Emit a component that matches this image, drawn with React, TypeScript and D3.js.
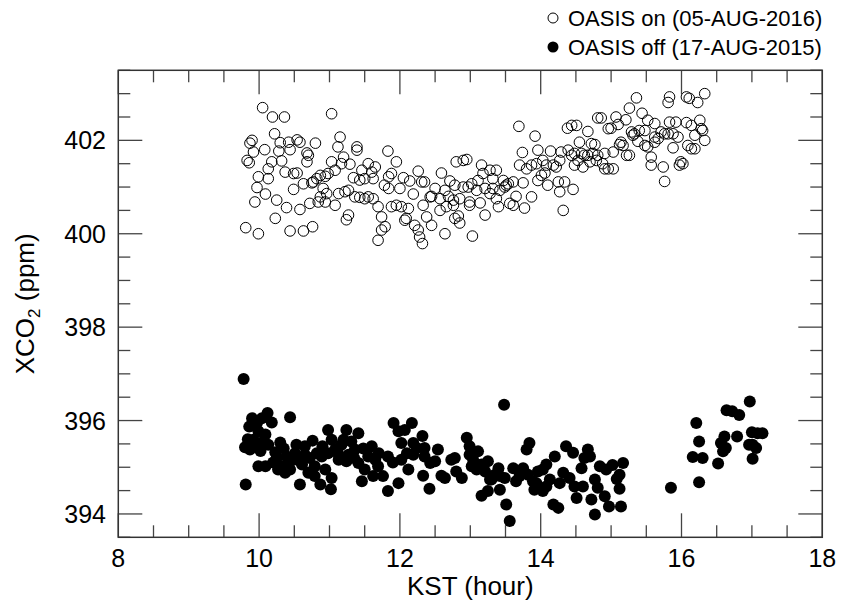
import React from "react";
import * as d3 from "d3";

// OASIS on (05-AUG-2016): [KST hour, XCO2 ppm]
const oasisOn: [number, number][] = [
  [10.05, 402.7], [10.19, 402.5], [10.36, 402.5], [11.03, 402.57], [10.22, 402.14],
  [9.9, 402.0], [9.87, 401.94], [10.3, 401.95], [10.42, 401.96], [10.54, 402.01],
  [10.58, 401.96], [10.8, 401.94], [11.15, 402.07], [10.08, 401.8], [9.92, 401.75],
  [10.28, 401.77], [10.44, 401.8], [11.12, 401.86], [11.39, 401.86], [11.39, 401.79],
  [10.68, 401.73], [11.83, 401.77], [10.7, 401.68], [9.83, 401.57], [9.86, 401.52],
  [10.32, 401.56], [10.18, 401.54], [10.68, 401.54], [11.03, 401.54], [11.2, 401.64],
  [11.17, 401.5], [11.29, 401.49], [11.55, 401.5], [11.65, 401.43], [10.13, 401.39],
  [9.99, 401.22], [10.13, 401.18], [10.37, 401.32], [10.49, 401.29], [10.54, 401.3],
  [11.08, 401.36], [10.98, 401.29], [10.94, 401.23], [10.87, 401.25], [10.82, 401.18],
  [10.77, 401.11], [11.46, 401.36], [11.6, 401.32], [11.34, 401.2], [11.43, 401.15],
  [11.5, 401.18], [11.62, 401.18], [11.88, 401.29], [11.84, 401.22], [10.63, 401.07],
  [10.75, 401.09], [9.97, 400.99], [10.49, 400.95], [10.91, 400.97], [11.78, 401.04],
  [11.84, 400.97], [10.09, 400.85], [9.94, 400.68], [10.96, 400.86], [10.87, 400.79],
  [10.94, 400.68], [11.08, 400.61], [11.13, 400.86], [11.22, 400.9], [11.27, 400.93],
  [11.36, 400.79], [11.43, 400.78], [11.5, 400.75], [11.55, 400.79], [11.62, 400.75],
  [10.25, 400.72], [10.72, 400.65], [10.84, 400.68], [11.69, 400.58], [11.88, 400.58],
  [10.39, 400.56], [10.58, 400.52], [11.27, 400.4], [11.24, 400.3], [10.23, 400.33],
  [11.74, 400.36], [11.79, 400.15], [11.74, 400.08], [11.69, 399.86], [9.81, 400.13],
  [9.99, 400.0], [10.44, 400.06], [10.63, 400.06], [10.76, 400.15],
  [13.69, 402.3], [13.92, 402.09], [13.74, 401.74], [13.96, 401.79], [14.14, 401.77],
  [12.8, 401.54], [12.9, 401.57], [12.95, 401.59], [13.16, 401.47], [13.7, 401.47],
  [13.8, 401.39], [13.87, 401.47], [13.94, 401.5], [14.03, 401.57], [14.08, 401.47],
  [14.18, 401.47], [14.22, 401.43], [11.95, 401.54], [12.26, 401.34], [12.59, 401.3],
  [13.28, 401.36], [13.37, 401.36], [13.18, 401.29], [13.11, 401.14], [13.02, 401.07],
  [12.97, 401.0], [12.05, 401.2], [12.14, 401.13], [12.31, 401.11], [12.35, 401.11],
  [12.71, 401.13], [13.32, 401.18], [13.47, 401.14], [13.51, 401.04], [13.54, 401.07],
  [13.61, 401.11], [13.75, 401.09], [13.96, 401.14], [14.01, 401.25], [14.06, 401.3],
  [12.0, 400.97], [12.5, 400.97], [12.64, 400.93], [12.78, 401.04], [12.9, 401.0],
  [13.09, 400.93], [13.21, 400.97], [13.32, 400.97], [13.42, 400.93], [13.49, 401.0],
  [12.19, 400.85], [12.43, 400.79], [12.45, 400.8], [12.57, 400.75], [12.69, 400.8],
  [12.76, 400.72], [12.85, 400.75], [12.99, 400.68], [13.14, 400.66], [13.28, 400.86],
  [13.37, 400.75], [13.65, 400.8], [13.87, 400.79], [14.1, 401.04], [11.95, 400.61],
  [12.02, 400.58], [12.12, 400.54], [12.33, 400.61], [12.38, 400.36], [12.57, 400.5],
  [12.66, 400.58], [12.76, 400.61], [12.83, 400.38], [12.99, 400.61], [13.4, 400.58],
  [13.56, 400.65], [13.61, 400.61], [13.77, 400.55], [12.09, 400.33], [12.07, 400.29],
  [12.21, 400.18], [12.26, 400.08], [12.45, 400.18], [12.78, 400.33], [12.85, 400.23],
  [13.21, 400.4], [12.28, 399.93], [12.32, 399.79], [12.64, 400.0], [13.03, 399.95],
  [15.36, 402.91], [15.83, 402.93], [15.81, 402.81], [16.07, 402.93], [16.11, 402.9],
  [16.23, 402.81], [16.33, 403.0], [15.26, 402.69], [15.44, 402.58], [14.38, 402.26],
  [14.44, 402.32], [14.51, 402.32], [14.81, 402.48], [14.86, 402.48], [15.07, 402.5],
  [15.21, 402.44], [15.1, 402.34], [14.96, 402.25], [15.0, 402.26], [14.67, 402.19],
  [15.52, 402.43], [15.62, 402.36], [15.83, 402.39], [15.92, 402.39], [16.07, 402.38],
  [16.14, 402.32], [16.26, 402.43], [16.28, 402.25], [16.3, 402.21], [15.29, 402.18],
  [15.33, 402.14], [15.4, 402.21], [15.48, 402.21], [15.31, 402.11], [15.71, 402.18],
  [15.81, 402.14], [15.88, 402.14], [15.95, 402.07], [15.62, 402.07], [15.67, 402.04],
  [15.76, 402.14], [16.19, 402.11], [16.33, 402.0], [14.55, 401.96], [14.72, 401.93],
  [14.77, 401.91], [15.14, 401.96], [15.17, 401.89], [15.12, 401.91], [15.38, 401.98],
  [15.48, 401.89], [15.52, 401.86], [15.62, 401.96], [14.29, 401.75], [14.39, 401.79],
  [14.44, 401.68], [14.48, 401.72], [14.58, 401.72], [14.62, 401.68], [14.67, 401.68],
  [14.74, 401.72], [14.81, 401.68], [14.91, 401.72], [15.03, 401.75], [15.22, 401.68],
  [15.26, 401.68], [15.88, 401.84], [16.09, 401.89], [16.14, 401.82], [16.19, 401.82],
  [14.27, 401.57], [14.53, 401.57], [14.48, 401.47], [14.6, 401.43], [14.7, 401.54],
  [14.79, 401.57], [14.88, 401.5], [14.91, 401.39], [14.96, 401.39], [15.03, 401.39],
  [15.57, 401.64], [15.57, 401.47], [15.74, 401.43], [15.99, 401.54], [15.97, 401.47],
  [16.02, 401.5], [14.25, 401.11], [14.34, 401.11], [14.27, 400.9], [14.46, 400.95],
  [15.76, 401.12], [14.32, 400.5],
];

// OASIS off (17-AUG-2015): [KST hour, XCO2 ppm]
const oasisOff: [number, number][] = [
  [9.78, 396.89], [9.9, 396.05], [10.04, 396.05], [10.12, 396.16], [10.18, 395.96],
  [10.44, 396.07], [9.86, 395.87], [9.99, 395.77], [10.09, 395.7], [9.92, 395.59],
  [9.8, 395.43], [9.87, 395.38], [10.13, 395.48], [10.3, 395.53], [10.23, 395.32],
  [9.99, 395.02], [10.09, 395.02], [9.81, 394.63], [10.25, 395.2], [10.32, 395.02],
  [10.37, 394.88], [10.27, 394.95], [10.53, 395.48], [10.51, 395.3], [10.65, 395.45],
  [10.76, 395.57], [10.61, 395.06], [10.7, 394.88], [10.79, 394.81], [10.87, 394.63],
  [10.58, 394.63], [10.98, 395.8], [11.03, 394.77], [11.02, 394.53], [10.94, 394.95],
  [10.89, 395.23], [10.98, 395.3], [11.08, 395.38], [11.17, 395.48], [11.24, 395.8],
  [11.2, 395.59], [11.27, 395.27], [11.36, 395.38], [11.41, 395.73], [11.41, 395.09],
  [11.46, 394.7], [11.5, 394.95], [11.6, 395.45], [11.62, 394.81], [11.69, 395.02],
  [11.76, 394.81], [11.83, 395.23], [11.83, 394.49], [11.98, 394.66], [11.91, 395.95],
  [11.98, 395.77], [12.07, 395.8], [12.02, 395.52], [12.12, 394.95], [12.17, 395.95],
  [12.02, 395.16], [10.44, 395.13], [10.65, 395.27], [10.82, 395.3], [11.13, 395.16],
  [10.79, 395.02], [11.24, 395.13], [11.55, 395.23], [11.65, 395.16], [10.44, 394.95],
  [9.94, 395.45], [10.06, 395.55], [9.97, 395.95], [10.39, 395.23], [11.03, 395.59],
  [11.31, 395.55], [9.84, 395.6], [10.02, 395.35], [10.2, 395.1], [10.35, 395.4],
  [10.56, 395.15], [10.72, 395.2], [10.9, 395.45], [11.12, 395.3], [11.35, 395.2],
  [11.48, 395.4], [11.7, 395.3], [11.9, 395.1], [12.1, 395.3],
  [13.48, 396.34], [12.32, 395.67], [12.19, 395.52], [12.35, 395.41], [12.19, 395.27],
  [12.35, 395.23], [12.5, 395.13], [12.54, 395.38], [12.33, 394.82], [12.42, 394.54],
  [12.59, 394.82], [12.64, 394.77], [12.73, 395.16], [12.78, 395.2], [12.8, 394.91],
  [12.88, 394.77], [12.95, 395.63], [12.99, 395.45], [13.11, 395.34], [13.04, 395.16],
  [13.02, 395.02], [13.09, 394.95], [13.16, 395.06], [13.25, 395.13], [13.21, 394.91],
  [13.28, 394.74], [13.4, 394.98], [13.35, 394.84], [13.42, 394.81], [13.49, 394.77],
  [13.3, 394.74], [13.16, 394.39], [13.25, 394.49], [13.42, 394.52], [13.51, 394.2],
  [13.56, 393.85], [13.65, 394.7], [13.61, 394.98], [13.75, 394.98], [13.8, 395.38],
  [13.84, 395.52], [13.82, 394.84], [13.89, 394.7], [13.91, 394.52], [13.96, 394.91],
  [14.03, 394.95], [14.08, 395.06], [14.2, 395.23], [14.08, 394.59], [14.13, 394.74],
  [14.03, 394.49], [14.18, 394.2], [14.25, 394.13], [14.32, 394.88], [14.36, 395.45],
  [14.46, 395.31], [14.41, 394.77], [14.48, 394.59], [14.51, 394.34], [14.58, 394.98],
  [14.62, 395.2], [14.67, 395.38], [14.7, 395.23], [14.6, 394.59], [14.72, 394.31],
  [14.77, 393.99], [14.77, 394.74], [14.84, 395.02], [14.81, 394.56], [14.91, 394.38],
  [14.93, 394.95], [14.97, 394.16], [12.24, 395.41], [12.43, 395.09], [12.99, 395.27],
  [13.7, 394.81], [14.27, 394.66], [13.94, 394.66],
  [15.17, 395.09], [15.12, 394.84], [15.12, 394.54], [15.14, 394.16], [15.02, 395.05],
  [15.08, 394.75],
  [15.85, 394.56], [16.21, 395.95], [16.25, 395.55], [16.16, 395.22], [16.3, 395.2],
  [16.25, 394.68], [16.52, 395.08], [16.56, 395.52], [16.61, 395.66], [16.59, 395.34],
  [16.63, 395.41], [16.64, 396.22], [16.72, 396.2], [16.82, 396.12], [16.79, 395.66],
  [16.97, 396.41], [17.0, 395.75], [17.08, 395.73], [17.15, 395.73], [16.96, 395.48],
  [17.01, 395.48], [17.06, 395.41], [17.01, 395.18],
];

const xMajorTicks = [8, 10, 12, 14, 16, 18];
const yMajorTicks = [394, 396, 398, 400, 402];
const legendLabels = ["OASIS on (05-AUG-2016)", "OASIS off (17-AUG-2015)"];

const W = 842;
const H = 610;
const M = { left: 118.3, right: 822.3, top: 70.3, bottom: 537.3 };
const FONT = "'Liberation Sans', Arial, Helvetica, sans-serif";

export default function App() {
  const x = d3.scaleLinear().domain([8, 18]).range([M.left, M.right]);
  const y = d3.scaleLinear().domain([393.5, 403.5]).range([M.bottom, M.top]);

  const xMinor = d3.range(8, 18.001, 0.5).filter((v) => !xMajorTicks.includes(v));
  const yMinor = d3.range(393.5, 403.501, 0.5).filter((v) => !yMajorTicks.includes(v));
  const tickColor = "#444";
  const majorLen = 24;
  const minorLen = 12;

  return (
    <svg
      width={W}
      height={H}
      style={{ position: "absolute", left: 0, top: 0, background: "#fff" }}
      fontFamily={FONT}
    >
      <rect x={0} y={0} width={W} height={H} fill="#fff" />
      <g stroke={tickColor} strokeWidth={1.3}>
        {xMajorTicks.map((t) => (
          <g key={"xm" + t}>
            <line x1={x(t)} x2={x(t)} y1={M.bottom} y2={M.bottom - majorLen} />
            <line x1={x(t)} x2={x(t)} y1={M.top} y2={M.top + majorLen} />
          </g>
        ))}
        {xMinor.map((t) => (
          <g key={"xn" + t}>
            <line x1={x(t)} x2={x(t)} y1={M.bottom} y2={M.bottom - minorLen} />
            <line x1={x(t)} x2={x(t)} y1={M.top} y2={M.top + minorLen} />
          </g>
        ))}
        {yMajorTicks.map((t) => (
          <g key={"ym" + t}>
            <line x1={M.left} x2={M.left + majorLen} y1={y(t)} y2={y(t)} />
            <line x1={M.right} x2={M.right - majorLen} y1={y(t)} y2={y(t)} />
          </g>
        ))}
        {yMinor.map((t) => (
          <g key={"yn" + t}>
            <line x1={M.left} x2={M.left + minorLen} y1={y(t)} y2={y(t)} />
            <line x1={M.right} x2={M.right - minorLen} y1={y(t)} y2={y(t)} />
          </g>
        ))}
      </g>
      <rect
        x={M.left}
        y={M.top}
        width={M.right - M.left}
        height={M.bottom - M.top}
        fill="none"
        stroke="#333"
        strokeWidth={1.5}
      />
      {xMajorTicks.map((t) => (
        <text key={"xl" + t} x={x(t)} y={567} fontSize={25} textAnchor="middle" fill="#000">
          {t}
        </text>
      ))}
      {yMajorTicks.map((t) => (
        <text key={"yl" + t} x={106} y={y(t) + 9} fontSize={25} textAnchor="end" fill="#000">
          {t}
        </text>
      ))}
      <text x={(M.left + M.right) / 2} y={595} fontSize={26} textAnchor="middle" fill="#000">
        KST (hour)
      </text>
      <text
        transform={`translate(34,${(M.top + M.bottom) / 2}) rotate(-90)`}
        fontSize={26}
        textAnchor="middle"
        fill="#000"
      >
        XCO<tspan fontSize={17} dy={6}>2</tspan>
        <tspan dy={-6}> (ppm)</tspan>
      </text>
      <g>
        {oasisOff.map(([h, v], i) => (
          <circle key={"f" + i} cx={x(h)} cy={y(v)} r={6} fill="#000" />
        ))}
      </g>
      <g>
        {oasisOn.map(([h, v], i) => (
          <circle key={"o" + i} cx={x(h)} cy={y(v)} r={5.3} fill="none" stroke="#000" strokeWidth={1} />
        ))}
      </g>
      <circle cx={553} cy={18} r={5} fill="none" stroke="#000" strokeWidth={1} />
      <text x={568} y={26} fontSize={22} fill="#000">{legendLabels[0]}</text>
      <circle cx={553} cy={47} r={5.5} fill="#000" />
      <text x={568} y={55} fontSize={22} fill="#000">{legendLabels[1]}</text>
    </svg>
  );
}
